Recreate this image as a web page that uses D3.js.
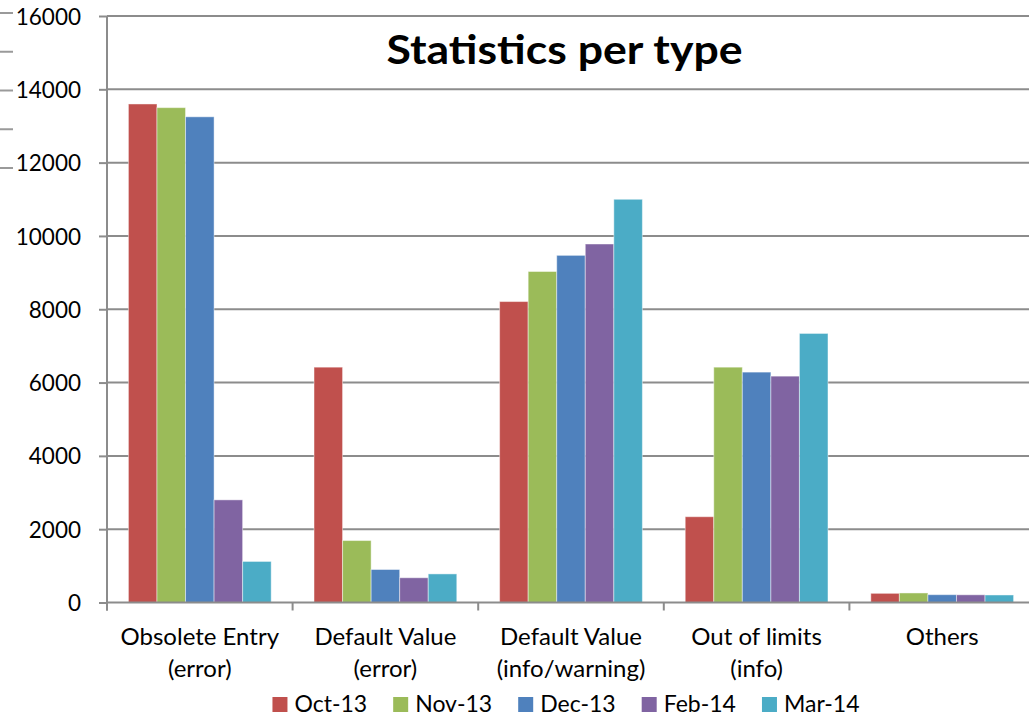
<!DOCTYPE html>
<html>
<head>
<meta charset="utf-8">
<script src="https://cdn.jsdelivr.net/npm/d3@7"></script>
<style>
  html, body { margin: 0; padding: 0; background: #fff; }
  svg { display: block; font-family: Lato, "Open Sans", sans-serif; }
</style>
</head>
<body>
<svg id="chart" width="1029" height="717"></svg>
<script>
const categories = [
  ["Obsolete Entry", "(error)"],
  ["Default Value", "(error)"],
  ["Default Value", "(info/warning)"],
  ["Out of limits", "(info)"],
  ["Others"]
];
const seriesNames = ["Oct-13", "Nov-13", "Dec-13", "Feb-14", "Mar-14"];
const seriesColors = ["#C0504D", "#9BBB59", "#4F81BD", "#8064A2", "#4BACC6"];
const oct13 = [13600, 6420, 8210, 2340, 250];
const nov13 = [13500, 1690, 9030, 6420, 260];
const dec13 = [13250, 900, 9470, 6285, 213];
const feb14 = [2800, 675, 9780, 6175, 210];
const mar14 = [1120, 780, 11000, 7340, 205];
const seriesValues = [oct13, nov13, dec13, feb14, mar14];
const yTicks = [0, 2000, 4000, 6000, 8000, 10000, 12000, 14000, 16000];
const title = "Statistics per type";

const svg = d3.select("#chart");
const W = 1029, H = 717;
const m = { left: 107, top: 16, right: -6, bottom: 114.5 };
const y = d3.scaleLinear().domain([0, 16000]).range([H - m.bottom, m.top]);
const catIdx = d3.range(categories.length);
const x0 = d3.scaleBand().domain(catIdx).range([m.left, W - m.right]).paddingInner(0).paddingOuter(0);
const x1 = d3.scaleBand().domain(d3.range(seriesNames.length)).range([0, x0.bandwidth()]).paddingInner(0).paddingOuter(0.75);

const grid = "#8c8c8c";

// decorative stray ticks on far left edge (cropped neighbouring axis)
const stray = d3.scaleLinear().domain([0, 4]).range([13, 168]);
svg.append("g").selectAll("line").data(d3.range(5)).join("line")
  .attr("x1", 0).attr("x2", 13)
  .attr("y1", d => stray(d)).attr("y2", d => stray(d))
  .attr("stroke", "#9a9a9a").attr("stroke-width", 2);

// gridlines
svg.append("g").selectAll("line").data(yTicks.filter(t => t > 0)).join("line")
  .attr("x1", m.left).attr("x2", W)
  .attr("y1", d => y(d)).attr("y2", d => y(d))
  .attr("stroke", grid).attr("stroke-width", 2);

// y axis
const yAxis = svg.append("g").attr("transform", `translate(${m.left},0)`)
  .call(d3.axisLeft(y).tickValues(yTicks).tickSize(8).tickPadding(18).tickFormat(d3.format("d")));
yAxis.select(".domain").attr("stroke", grid).attr("stroke-width", 2).attr("d", `M0,${y(0)+8}V${y(16000)}`);
yAxis.selectAll(".tick line").attr("stroke", grid).attr("stroke-width", 2);
yAxis.selectAll(".tick text").attr("fill", "#000").style("font-size", "22.5px").style("font-family", "Lato").attr("dy", "0.36em");

// bars
const groups = svg.append("g").selectAll("g").data(seriesValues).join("g")
  .attr("fill", (d, i) => seriesColors[i]);
groups.each(function(vals, si) {
  d3.select(this).selectAll("rect").data(vals).join("rect")
    .attr("x", (v, ci) => x0(ci) + x1(si))
    .attr("width", x1.bandwidth())
    .attr("y", v => y(v))
    .attr("height", v => y(0) - y(v))
    .attr("stroke", "rgba(255,255,255,0.45)")
    .attr("stroke-width", 1);
});

// x axis line and ticks
svg.append("line").attr("x1", m.left).attr("x2", W).attr("y1", y(0)).attr("y2", y(0))
  .attr("stroke", grid).attr("stroke-width", 2);
svg.append("g").selectAll("line").data(d3.range(categories.length + 1)).join("line")
  .attr("x1", d => m.left + d * x0.step()).attr("x2", d => m.left + d * x0.step())
  .attr("y1", y(0)).attr("y2", y(0) + 8)
  .attr("stroke", grid).attr("stroke-width", 2);

// category labels
const labels = svg.append("g").selectAll("text").data(categories).join("text")
  .attr("x", (d, i) => x0(i) + x0.bandwidth() / 2)
  .attr("y", 645)
  .attr("text-anchor", "middle")
  .style("font-size", "24px")
  .attr("fill", "#000");
labels.selectAll("tspan").data(d => d).join("tspan")
  .attr("x", function() { return this.parentNode.getAttribute("x"); })
  .attr("dy", (d, i) => i === 0 ? 0 : 32)
  .text(d => d);

// title
svg.append("text").attr("x", 564.5).attr("y", 64).attr("text-anchor", "middle")
  .style("font-size", "40px").style("font-weight", "bold").attr("fill", "#000")
  .attr("textLength", 356).attr("lengthAdjust", "spacingAndGlyphs").text(title);

// legend
const legend = svg.append("g");
const items = legend.selectAll("g").data(seriesNames).join("g");
items.append("rect").attr("width", 15).attr("height", 15).attr("y", 697)
  .attr("fill", (d, i) => seriesColors[i]);
items.append("text").attr("x", 22).attr("y", 712).style("font-size", "23px").attr("fill", "#000").text(d => d);
const gap = 26;
let cx = 0;
const offs = [];
items.each(function() { offs.push(cx); cx += this.getBBox().width + gap; });
const totalW = cx - gap;
const startX = 566 - totalW / 2;
items.attr("transform", (d, i) => `translate(${startX + offs[i]},0)`);
</script>
</body>
</html>
